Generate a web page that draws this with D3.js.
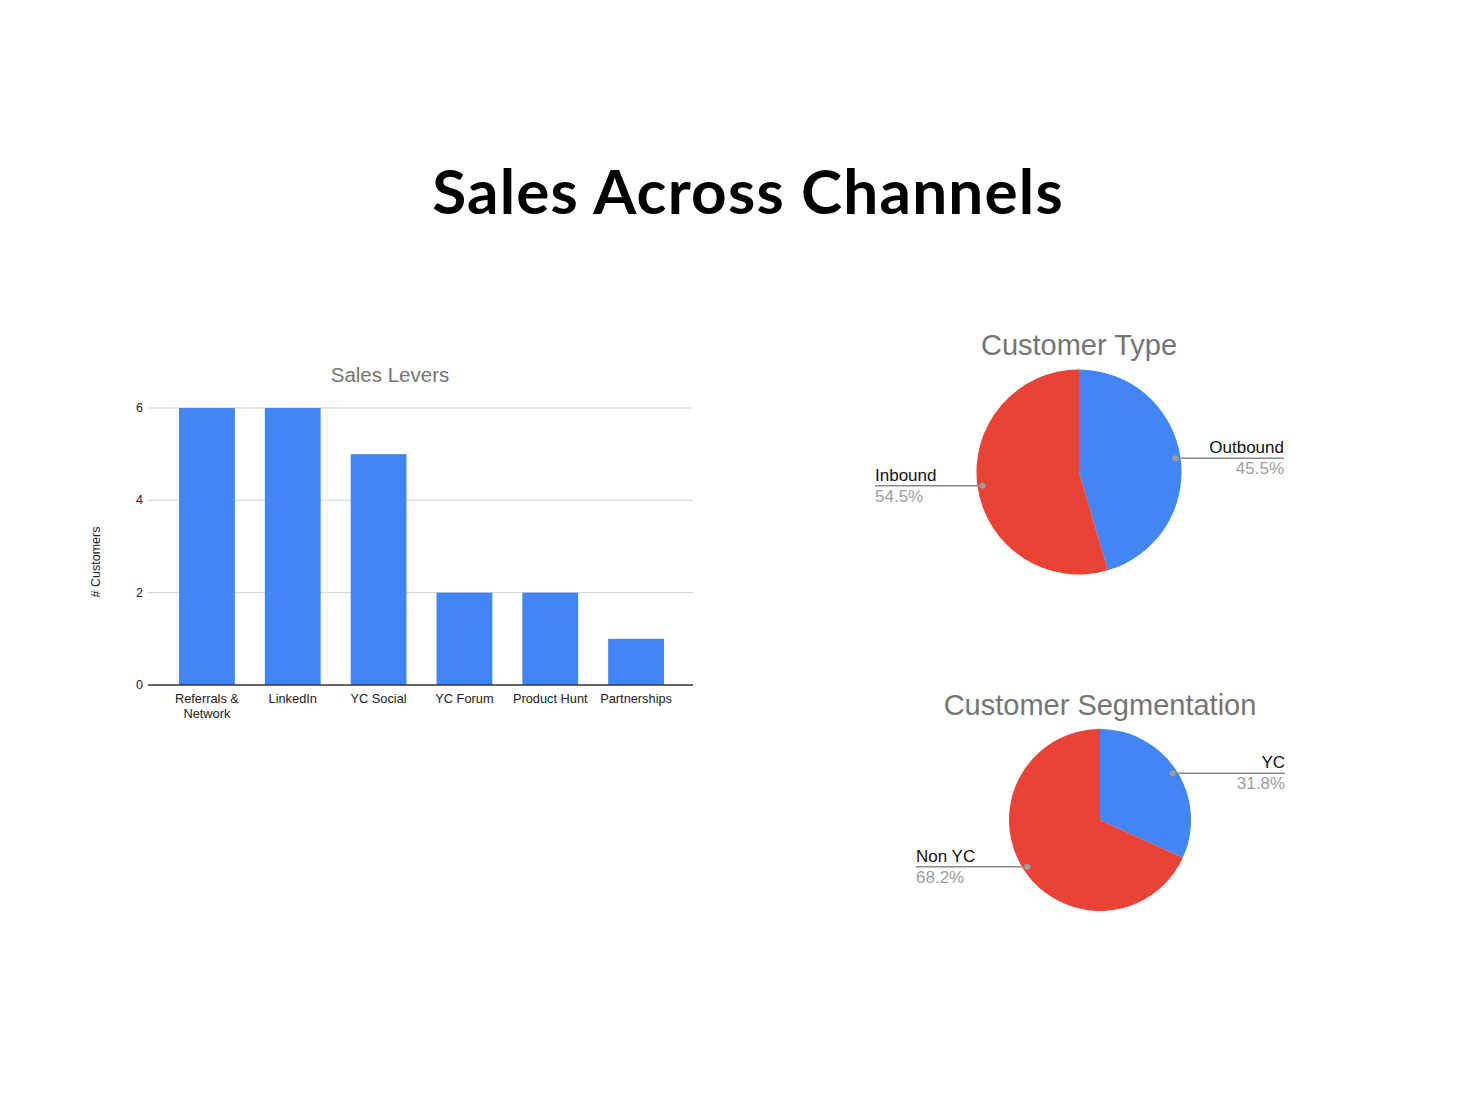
<!DOCTYPE html>
<html>
<head>
<meta charset="utf-8">
<script src="https://cdn.jsdelivr.net/npm/d3@7"></script>
<style>
  body { margin: 0; background: #fff; }
  svg { display: block; }
</style>
</head>
<body>
<svg id="chart"></svg>
<script>
// bar chart data
const levers = ["Referrals & Network", "LinkedIn", "YC Social", "YC Forum", "Product Hunt", "Partnerships"]
const customers = [6, 6, 5, 2, 2, 1]
const yTicks = [0, 2, 4, 6]

// pie data (counts, sums to 22 like the bars)
const typeLabels = ["Outbound", "Inbound"]
const typeValues = [10, 12]
const segLabels = ["YC", "Non YC"]
const segValues = [7, 15]

const W = 1477, H = 1108
const blue = "#4285F4", red = "#EA4335"
const chartFont = "'Liberation Sans', Arial, sans-serif"

const svg = d3.select("#chart").attr("width", W).attr("height", H)

svg.append("text")
  .attr("x", 748).attr("y", 214)
  .attr("text-anchor", "middle")
  .style("font-family", "Lato, 'Noto Sans', sans-serif")
  .style("font-weight", 700)
  .style("font-size", "62px")
  .style("letter-spacing", "1.2px")
  .attr("fill", "#000")
  .text("Sales Across Channels")

// ---- bar chart ----
const x = d3.scaleBand().domain(levers).range([164, 679]).paddingInner(0.35).paddingOuter(0.175)
const y = d3.scaleLinear().domain([0, 6]).range([685, 408])

const bars = svg.append("g")

svg.append("text")
  .attr("x", 390).attr("y", 382)
  .attr("text-anchor", "middle")
  .style("font-family", chartFont).style("font-size", "20.5px")
  .attr("fill", "#757575")
  .text("Sales Levers")

bars.selectAll("line.grid")
  .data(yTicks.filter(d => d > 0))
  .enter().append("line")
  .attr("x1", 148).attr("x2", 693)
  .attr("y1", d => y(d)).attr("y2", d => y(d))
  .attr("stroke", "#d0d0d0").attr("stroke-width", 1)

bars.selectAll("rect")
  .data(customers)
  .enter().append("rect")
  .attr("x", (d, i) => x(levers[i]))
  .attr("width", x.bandwidth())
  .attr("y", d => y(d))
  .attr("height", d => y(0) - y(d))
  .attr("fill", blue)

bars.append("line")
  .attr("x1", 148).attr("x2", 693)
  .attr("y1", y(0)).attr("y2", y(0))
  .attr("stroke", "#333").attr("stroke-width", 1.3)

bars.selectAll("text.tick")
  .data(yTicks)
  .enter().append("text")
  .attr("x", 143).attr("y", d => y(d) + 4)
  .attr("text-anchor", "end")
  .style("font-family", chartFont).style("font-size", "12.5px")
  .attr("fill", "#222")
  .text(d => d)

// category labels, wrap the long one
const catLbl = bars.selectAll("text.cat")
  .data(levers)
  .enter().append("text")
  .attr("text-anchor", "middle")
  .style("font-family", chartFont).style("font-size", "12.8px")
  .attr("fill", "#222")
catLbl.each(function (d) {
  const parts = d === "Referrals & Network" ? ["Referrals &", "Network"] : [d]
  const cx = x(d) + x.bandwidth() / 2
  parts.forEach((p, k) => {
    d3.select(this).append("tspan")
      .attr("x", cx).attr("y", 703 + k * 15)
      .text(p)
  })
})

svg.append("text")
  .attr("transform", "translate(100,562) rotate(-90)")
  .attr("text-anchor", "middle")
  .style("font-family", chartFont).style("font-size", "12.5px")
  .attr("fill", "#222")
  .text("# Customers")

// ---- pies ----
function drawPie(cfg) {
  const g = svg.append("g").attr("transform", `translate(${cfg.cx},${cfg.cy})`)
  const pie = d3.pie().sort(null).value(d => d)(cfg.values)
  const arc = d3.arc().innerRadius(0).outerRadius(cfg.r)
  const total = d3.sum(cfg.values)

  svg.append("text")
    .attr("x", cfg.cx).attr("y", cfg.titleY)
    .attr("text-anchor", "middle")
    .style("font-family", chartFont).style("font-size", "29px")
    .attr("fill", "#757575")
    .text(cfg.title)

  g.selectAll("path")
    .data(pie)
    .enter().append("path")
    .attr("d", arc)
    .attr("fill", (d, i) => [blue, red][i])

  pie.forEach((s, i) => {
    const mid = (s.startAngle + s.endAngle) / 2
    const px = Math.sin(mid) * cfg.r * 0.95
    const py = -Math.cos(mid) * cfg.r * 0.95
    const right = px > 0
    const ex = right ? cfg.rightX - cfg.cx : cfg.leftX - cfg.cx
    g.append("line")
      .attr("x1", px).attr("y1", py).attr("x2", ex).attr("y2", py)
      .attr("stroke", "#8a8a8a").attr("stroke-width", 1.5)
    g.append("circle")
      .attr("cx", px).attr("cy", py).attr("r", 3)
      .attr("fill", "#9e9e9e")
    const anchor = right ? "end" : "start"
    g.append("text")
      .attr("x", ex).attr("y", py - 5)
      .attr("text-anchor", anchor)
      .style("font-family", chartFont).style("font-size", "17px")
      .attr("fill", "#111")
      .text(cfg.labels[i])
    g.append("text")
      .attr("x", ex).attr("y", py + 16)
      .attr("text-anchor", anchor)
      .style("font-family", chartFont).style("font-size", "17px")
      .attr("fill", "#9e9e9e")
      .text(d3.format(".1%")(cfg.values[i] / total))
  })
}

drawPie({ cx: 1079, cy: 472, r: 102.5, title: "Customer Type", titleY: 355,
  values: typeValues, labels: typeLabels, rightX: 1284, leftX: 875 })
drawPie({ cx: 1100, cy: 820, r: 91, title: "Customer Segmentation", titleY: 715,
  values: segValues, labels: segLabels, rightX: 1285, leftX: 916 })
</script>
</body>
</html>
